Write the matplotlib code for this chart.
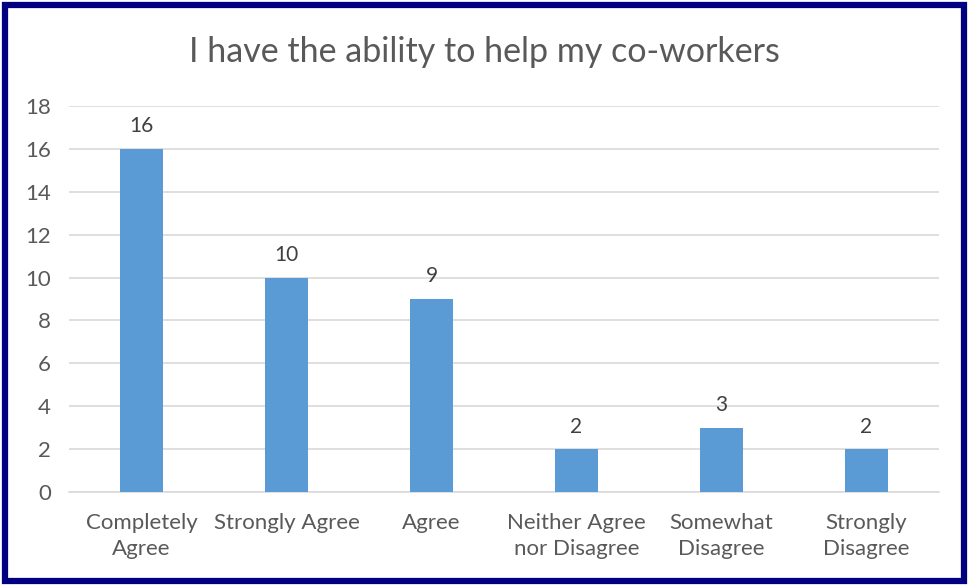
import matplotlib.pyplot as plt
from matplotlib.patches import Rectangle

categories = ['Completely\nAgree', 'Strongly Agree', 'Agree',
              'Neither Agree\nnor Disagree', 'Somewhat\nDisagree', 'Strongly\nDisagree']
counts = [16, 10, 9, 2, 3, 2]
yticks = [0, 2, 4, 6, 8, 10, 12, 14, 16, 18]

plt.rcParams['font.family'] = ['Lato', 'DejaVu Sans']
text_color = '#595959'

fig = plt.figure(figsize=(9.69, 5.87), dpi=100)
ax = fig.add_axes([69 / 969, 95 / 587, 870 / 969, 386 / 587])

x = range(len(categories))
bars = ax.bar(x, counts, width=0.3, color='#5b9bd5', zorder=3)
for rect, v in zip(bars, counts):
    ax.annotate(str(v), (rect.get_x() + rect.get_width() / 2, v),
                xytext=(0, 9), textcoords='offset points',
                ha='center', va='bottom', fontsize=15, color='#404040')

# appearance
ax.set_xlim(-0.5, len(categories) - 0.5)
ax.set_ylim(0, 18)
ax.set_yticks(yticks)
ax.yaxis.grid(True, color='#d9d9d9', linewidth=1.2, zorder=0)
ax.set_xticks(list(x))
ax.set_xticklabels(categories, fontsize=16, color=text_color, linespacing=1.4)
ax.tick_params(axis='y', labelsize=16, labelcolor=text_color, length=0, pad=13)
ax.tick_params(axis='x', length=0, pad=15)
for side in ['top', 'right', 'left']:
    ax.spines[side].set_visible(False)
ax.spines['bottom'].set_color('#d9d9d9')
ax.spines['bottom'].set_linewidth(1.2)

fig.text(0.5, 1 - 52 / 587, 'I have the ability to help my co-workers',
         ha='center', va='center', fontsize=24.5, color=text_color)

# navy frame
fig.patches.append(Rectangle((5 / 969, 6 / 587), 959 / 969, 576 / 587,
                             transform=fig.transFigure, fill=False,
                             edgecolor='#000080', linewidth=4.5))

fig.savefig('out.png', dpi=100)
